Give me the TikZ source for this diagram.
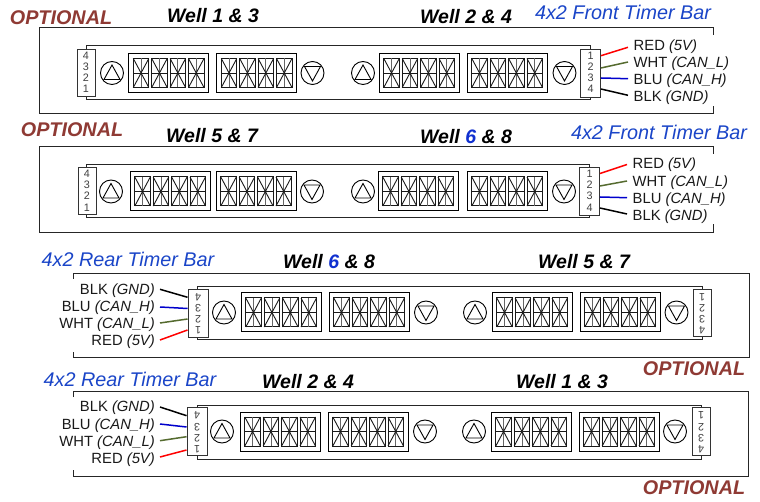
\documentclass[tikz,border=0pt]{standalone}
\usepackage{fontspec}
\setmainfont{Liberation Sans}
\definecolor{optred}{HTML}{8F3A34}
\definecolor{barblue}{HTML}{1A45C8}
\definecolor{wireolive}{HTML}{556B2F}
\definecolor{wellblue}{HTML}{1030D0}
\tikzset{
  frame/.style={line width=1pt,draw=black!85},
  barbody/.style={line width=1pt,draw=black!85,fill=white},
  conn/.style={line width=.9pt,draw=black!80,fill=white},
  disp/.style={line width=1pt,draw=black,fill=white},
  seg/.style={line width=.9pt,draw=black!90},
  wellt/.style={font=\fontsize{19.5}{19.5}\selectfont\bfseries\itshape,inner sep=0pt,yshift=-.7pt},
  optt/.style={font=\fontsize{19.8}{19.8}\selectfont\bfseries\itshape,text=optred,inner sep=0pt},
  titlet/.style={font=\fontsize{19.8}{19.8}\selectfont\itshape,text=barblue,inner sep=0pt},
  wirel/.style={font=\fontsize{14.8}{14.8}\selectfont,inner sep=0pt,text=black!90,yshift=-1.5pt},
  pin/.style={font=\fontsize{10.8}{10.8}\selectfont,inner sep=0pt,text=black!75},
  wirew/.style={line width=1.5pt}
}
% digit at top-left #1,#2
\newcommand{\dgt}[2]{
  \draw[seg,line width=1pt] (#1,#2) rectangle ++(15.5,29);
  \draw[seg] (#1,#2+14.5) -- ++(15.5,0);
  \draw[seg,black!60] (#1+7.75,#2) -- ++(0,29);
  \draw[seg] (#1,#2) -- ++(15.5,29);
  \draw[seg] (#1+15.5,#2) -- ++(-15.5,29);
}
% display left x, centre y
\newcommand{\dsp}[2]{
  \draw[disp] (#1,#2-19.5) rectangle ++(80,39);
  \dgt{#1+4.8}{#2-14.5}
  \dgt{#1+23.2}{#2-14.5}
  \dgt{#1+41.6}{#2-14.5}
  \dgt{#1+60}{#2-14.5}
}
\newcommand{\up}[2]{
  \draw[line width=.9pt] (#1,#2) circle (11.5);
  \draw[line width=.9pt] (#1,#2-8) -- (#1+8,#2+6.5) -- (#1-8,#2+6.5) -- cycle;
}
\newcommand{\down}[2]{
  \draw[line width=.9pt] (#1,#2) circle (11.5);
  \draw[line width=.9pt] (#1,#2+8) -- (#1+8,#2-6.5) -- (#1-8,#2-6.5) -- cycle;
}
% four-digit controls: #1 cx up, #2 disp1, #3 disp2, #4 cx down, #5 cy
\newcommand{\grp}[5]{
  \up{#1}{#5}\dsp{#2}{#5}\dsp{#3}{#5}\down{#4}{#5}
}
\begin{document}
\begin{tikzpicture}[x=1pt,y=-1pt]
\useasboundingbox (0,0) rectangle (760,502);
\fill[white] (0,0) rectangle (760,502);
% ---------- bar 1
\draw[frame] (713.5,35) -- (713.5,28) -- (39,28) -- (39,114) -- (713.5,114) -- (713.5,106);
\draw[barbody] (86,46) rectangle (590,99.5);
\grp{112}{128.5}{216.5}{312.5}{73}
\grp{363}{379}{467}{564.5}{73}
\node[conn,minimum width=18pt,minimum height=47.5pt,inner sep=0pt] (c1l) at (86.5,73) {};
\node[conn,minimum width=20pt,minimum height=48pt,inner sep=0pt] (c1r) at (590.5,73) {};
\foreach \t/\y in {4/55.5,3/66.5,2/77.5,1/88.5}{\node[pin] at (86,\y) {\t};}
\foreach \t/\y in {1/55.5,2/66.5,3/77.5,4/88.5}{\node[pin] at (590.5,\y) {\t};}
\node[optt] (o1) at (61,17.5) {OPTIONAL};
\node[wellt] (w1) at (213,15) {Well 1 \& 3};
\node[wellt] (w2) at (466,15.5) {Well 2 \& 4};
\node[titlet] (t1) at (623,12.5) {4x2 Front Timer Bar};
\node[wirel,anchor=west] (l1a) at (633.5,45) {RED \textit{(5V)}};
\node[wirel,anchor=west] (l1b) at (633.5,62) {WHT \textit{(CAN\_L)}};
\node[wirel,anchor=west] (l1c) at (633.5,79) {BLU \textit{(CAN\_H)}};
\node[wirel,anchor=west] (l1d) at (633.5,96) {BLK \textit{(GND)}};
\coordinate (e1a) at (628,47.3);\coordinate (e1b) at (628,62);\coordinate (e1c) at (628,78.7);\coordinate (e1d) at (628,95.3);
\draw[wirew,red] (c1r.east |- 0,55.7) -- (e1a);
\draw[wirew,wireolive] (c1r.east |- 0,68) -- (e1b);
\draw[wirew,blue!80!black] (c1r.east |- 0,78) -- (e1c);
\draw[wirew,black] (c1r.east |- 0,89) -- (e1d);
% ---------- bar 2
\draw[frame] (713.5,154) -- (713.5,147) -- (39,147) -- (39,232.5) -- (713.5,232.5) -- (713.5,224);
\draw[barbody] (86,165) rectangle (589,218);
\grp{111}{130}{216}{312}{191.5}
\grp{363}{378}{467}{564}{191.5}
\node[conn,minimum width=18pt,minimum height=47.5pt,inner sep=0pt] (c2l) at (87,191) {};
\node[conn,minimum width=20pt,minimum height=48pt,inner sep=0pt] (c2r) at (589.5,191.3) {};
\foreach \t/\y in {4/173.5,3/185,2/196,1/207.5}{\node[pin] at (87,\y) {\t};}
\foreach \t/\y in {1/173.5,2/185,3/196,4/207.5}{\node[pin] at (589.5,\y) {\t};}
\node[optt] (o2) at (72,130) {OPTIONAL};
\node[wellt] (w3) at (212,135) {Well 5 \& 7};
\node[wellt] (w4) at (466,135.5) {Well \textcolor{wellblue}{6} \& 8};
\node[titlet] (t2) at (659,132.5) {4x2 Front Timer Bar};
\node[wirel,anchor=west] (l2a) at (632.5,163) {RED \textit{(5V)}};
\node[wirel,anchor=west] (l2b) at (632.5,181) {WHT \textit{(CAN\_L)}};
\node[wirel,anchor=west] (l2c) at (632.5,198) {BLU \textit{(CAN\_H)}};
\node[wirel,anchor=west] (l2d) at (632.5,215) {BLK \textit{(GND)}};
\coordinate (e2a) at (627,164.5);\coordinate (e2b) at (627,181);\coordinate (e2c) at (627,197.7);\coordinate (e2d) at (627,214);
\draw[wirew,red] (c2r.east |- 0,173.5) -- (e2a);
\draw[wirew,wireolive] (c2r.east |- 0,186) -- (e2b);
\draw[wirew,blue!80!black] (c2r.east |- 0,197) -- (e2c);
\draw[wirew,black] (c2r.east |- 0,208) -- (e2d);
% ---------- bar 3
\draw[frame] (73.5,279) -- (73.5,273.5) -- (749,273.5) -- (749,358) -- (73.5,358) -- (73.5,352);
\draw[barbody] (197.5,287) rectangle (702,340);
\grp{224}{241}{329}{426}{312.5}
\grp{475}{492}{580}{676.5}{312.5}
\node[conn,minimum width=20pt,minimum height=48pt,inner sep=0pt] (c3l) at (198,313) {};
\node[conn,minimum width=18pt,minimum height=47.5pt,inner sep=0pt] (c3r) at (702,313) {};
\foreach \t/\y in {4/297,3/308.5,2/319.5,1/330.5}{\node[pin,rotate=180] at (198,\y) {\t};}
\foreach \t/\y in {1/297.5,2/308,3/319,4/330}{\node[pin,rotate=180] at (702,\y) {\t};}
\node[titlet] (t3) at (128,259) {4x2 Rear Timer Bar};
\node[wellt] (w5) at (329,261) {Well \textcolor{wellblue}{6} \& 8};
\node[wellt] (w6) at (584,261) {Well 5 \& 7};
\node[optt] (o3) at (694,369) {OPTIONAL};
\node[wirel,anchor=east] (l3d) at (155,289) {BLK \textit{(GND)}};
\node[wirel,anchor=east] (l3c) at (155,306) {BLU \textit{(CAN\_H)}};
\node[wirel,anchor=east] (l3b) at (155,323) {WHT \textit{(CAN\_L)}};
\node[wirel,anchor=east] (l3a) at (155,340) {RED \textit{(5V)}};
\coordinate (e3d) at (160,289.3);\coordinate (e3c) at (160,307);\coordinate (e3b) at (160,323);\coordinate (e3a) at (160,340);
\draw[wirew,black] (e3d) -- (c3l.west |- 0,297.3);
\draw[wirew,blue!80!black] (e3c) -- (c3l.west |- 0,308.5);
\draw[wirew,wireolive] (e3b) -- (c3l.west |- 0,319);
\draw[wirew,red] (e3a) -- (c3l.west |- 0,330);
% ---------- bar 4
\draw[frame] (73.5,397) -- (73.5,391) -- (748.5,391) -- (748.5,476) -- (73.5,476) -- (73.5,470);
\draw[barbody] (197,405) rectangle (701,459);
\grp{222}{240}{328}{425}{431.5}
\grp{474}{491}{579}{675}{431.5}
\node[conn,minimum width=20pt,minimum height=47.5pt,inner sep=0pt] (c4l) at (197,431.5) {};
\node[conn,minimum width=18pt,minimum height=47.5pt,inner sep=0pt] (c4r) at (701,431.5) {};
\foreach \t/\y in {4/415.5,3/427,2/438,1/449}{\node[pin,rotate=180] at (197,\y) {\t};}
\foreach \t/\y in {1/415.5,2/427,3/438,4/449}{\node[pin,rotate=180] at (701,\y) {\t};}
\node[titlet] (t4) at (130,379) {4x2 Rear Timer Bar};
\node[wellt] (w7) at (308,380.5) {Well 2 \& 4};
\node[wellt] (w8) at (562,380.5) {Well 1 \& 3};
\node[optt] (o4) at (694,488) {OPTIONAL};
\node[wirel,anchor=east] (l4d) at (155,406) {BLK \textit{(GND)}};
\node[wirel,anchor=east] (l4c) at (155,424) {BLU \textit{(CAN\_H)}};
\node[wirel,anchor=east] (l4b) at (155,441) {WHT \textit{(CAN\_L)}};
\node[wirel,anchor=east] (l4a) at (155,458.5) {RED \textit{(5V)}};
\coordinate (e4d) at (160,407);\coordinate (e4c) at (160,424);\coordinate (e4b) at (160,440.7);\coordinate (e4a) at (160,457);
\draw[wirew,black] (e4d) -- (c4l.west |- 0,415.7);
\draw[wirew,blue!80!black] (e4c) -- (c4l.west |- 0,427);
\draw[wirew,wireolive] (e4b) -- (c4l.west |- 0,436.7);
\draw[wirew,red] (e4a) -- (c4l.west |- 0,450);
\end{tikzpicture}
\end{document}
